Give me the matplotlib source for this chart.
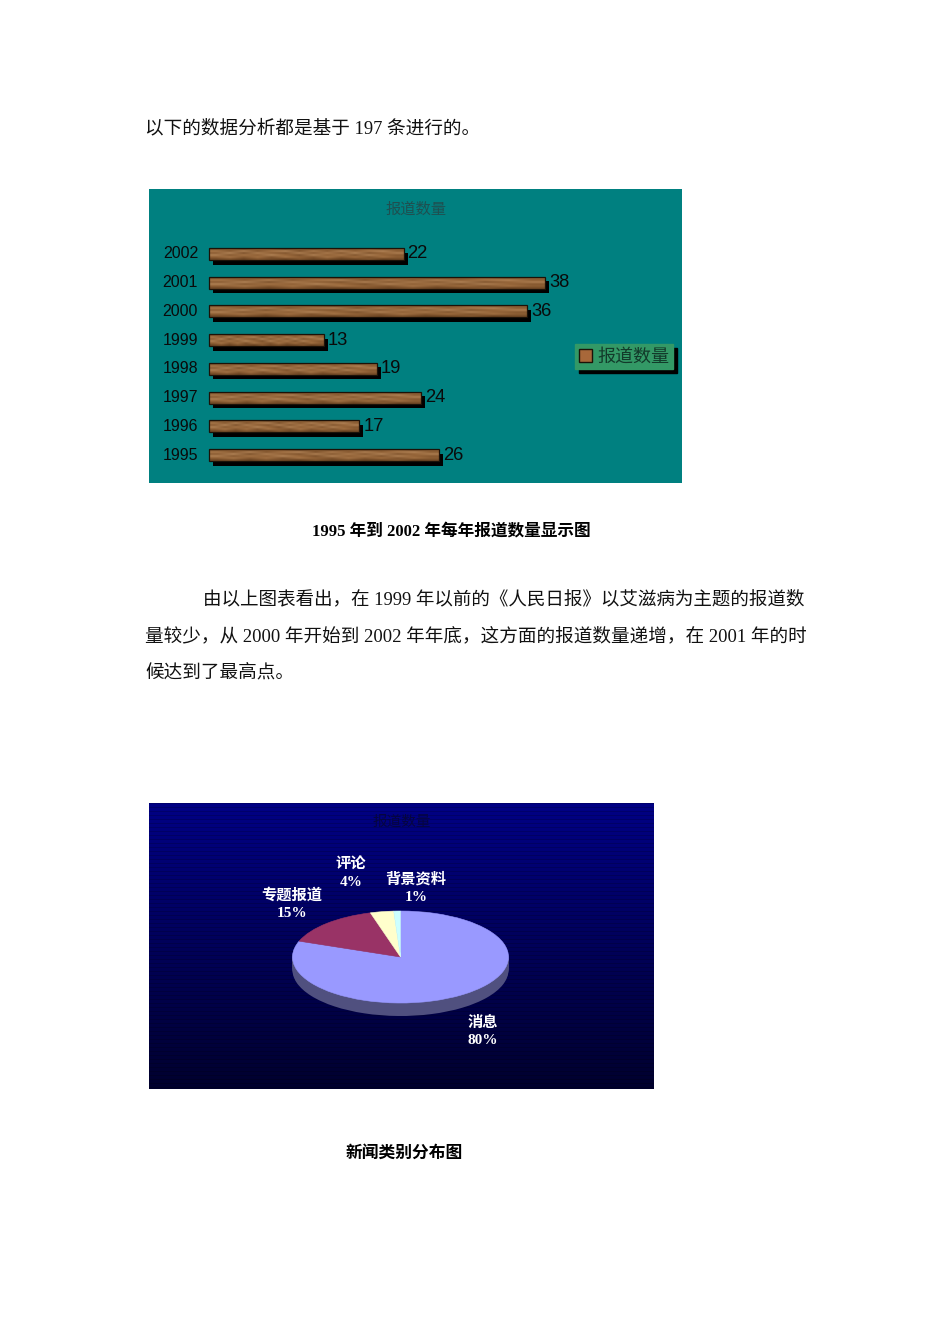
import matplotlib
matplotlib.use("Agg")
import matplotlib.pyplot as plt
import numpy as np
from matplotlib.colors import LinearSegmentedColormap

W, H = 950, 1344

years = ["1995", "1996", "1997", "1998", "1999", "2000", "2001", "2002"]
counts = [26, 17, 24, 19, 13, 36, 38, 22]
series_name = "报道数量"

news_types = ["消息", "专题报道", "评论", "背景资料"]
news_share = [80.6, 14.9, 3.5, 1.0]
news_labels = ["80%", "15%", "4%", "1%"]
news_colors = ["#9999ff", "#993366", "#ffffcc", "#ccffff"]

body_lines = [
    "以下的数据分析都是基于 197 条进行的。",
    "由以上图表看出，在 1999 年以前的《人民日报》以艾滋病为主题的报道数",
    "量较少，从 2000 年开始到 2002 年年底，这方面的报道数量递增，在 2001 年的时",
    "候达到了最高点。",
]
caption_bar = "1995 年到 2002 年每年报道数量显示图"
caption_pie = "新闻类别分布图"

# rough wood grain, brightness by row
wood_grain = [
    [.50, .58, .46, .60, .54, .44, .58, .48, .60, .46, .54, .58, .48, .58],
    [.72, .56, .78, .54, .70, .80, .52, .74, .56, .78, .60, .72, .80, .58],
    [.58, .80, .52, .76, .60, .54, .78, .56, .74, .56, .80, .54, .62, .76],
    [.78, .56, .70, .60, .80, .64, .52, .78, .60, .72, .54, .78, .62, .56],
    [.60, .70, .56, .68, .54, .70, .60, .54, .70, .56, .66, .54, .68, .58],
    [.46, .52, .44, .54, .48, .44, .54, .46, .52, .44, .48, .54, .44, .48],
]
wood_cmap = LinearSegmentedColormap.from_list("wood", ["#4a2a10", "#9c6a3c", "#cda479"])

serif = ["Liberation Serif", "Noto Sans CJK SC"]
cjk = ["Noto Sans CJK SC", "DejaVu Sans"]
sans = ["Liberation Sans", "Noto Sans CJK SC"]


def px_axes(fig, x0, y0, x1, y1):
    return fig.add_axes([x0 / W, 1 - y1 / H, (x1 - x0) / W, (y1 - y0) / H])


def page_text(fig, x, y, s, **kw):
    fig.text(x / W, 1 - y / H, s, va="center", **kw)


fig = plt.figure(figsize=(W / 100, H / 100), dpi=100, facecolor="white")

# ---- text of the page
page_text(fig, 145, 129, body_lines[0], family=serif, fontsize=13.4, color="#111111")
page_text(fig, 203, 599, body_lines[1], family=serif, fontsize=13.35, color="#111111")
page_text(fig, 145, 636, body_lines[2], family=serif, fontsize=13.4, color="#111111")
page_text(fig, 145, 674, body_lines[3], family=serif, fontsize=13.4, color="#111111")
page_text(fig, 451, 531, caption_bar, family=serif, fontsize=12, weight="bold", ha="center")
page_text(fig, 404.5, 1154, caption_pie, family=serif, fontsize=12.1, weight="bold", ha="center")

# ---- bar panel
ax = px_axes(fig, 149, 189, 682, 483)
ax.set_facecolor("#008080")
per_unit = (545 - 209) / 38
per_row = (455 - 254) / 7
xlim = ((149 - 209) / per_unit, (682 - 209) / per_unit)
ylim = (-(483 - 455) / per_row, 7 + (254 - 189) / per_row)
bar_h = 12 / per_row
pos = np.arange(len(years))

ax.barh(pos - 4.5 / per_row, counts, height=bar_h, left=4 / per_unit, color="black", zorder=2)
bars = ax.barh(pos, counts, height=bar_h, color="#a8683a", zorder=3, label=series_name)
for b, c, p, y in zip(bars, counts, pos, years):
    im = ax.imshow(wood_grain, cmap=wood_cmap, vmin=.3, vmax=1, aspect="auto", interpolation="bilinear",
                   extent=(0, c, p - bar_h / 2, p + bar_h / 2), zorder=3.5)
    im.set_clip_path(b)
    ax.text(c + 4 / per_unit, p, str(c), family=sans, fontsize=13.2, va="center", color="#0a0a0a", zorder=4)
    ax.text(-11 / per_unit, p, y, family=sans, fontsize=11.5, ha="right", va="center", color="#0a0a0a", zorder=4)
ax.barh(pos, counts, height=bar_h, fill=False, edgecolor="#1c1208", linewidth=0.9, zorder=3.7)
ax.set_xlim(xlim)
ax.set_ylim(ylim)
ax.set_xticks([])
ax.set_yticks([])
for s in ax.spines.values():
    s.set_visible(False)
ax.text((416 - 149) / 533, 1 - (209 - 189) / 294, series_name, transform=ax.transAxes, family=cjk,
        fontsize=11, color="#1f4f50", ha="center", va="center")
leg = ax.legend(loc="upper left", bbox_to_anchor=((575 - 149) / 533, (483 - 344) / 294), borderaxespad=0,
                prop={"family": cjk, "size": 13}, facecolor="#339966", edgecolor="#339966", framealpha=1,
                fancybox=False, shadow={"color": "black", "alpha": 1, "ox": 3, "oy": -3},
                handlelength=0.75, handleheight=0.75, handletextpad=0.3, borderpad=0.2, labelcolor="#123a2a")
leg.legend_handles[0].set_facecolor("#a8683a")
leg.legend_handles[0].set_edgecolor("#1c1208")

# ---- pie panel
ax2 = px_axes(fig, 149, 803, 654, 1089)
rx, ry = 108, 46
xr = (-(400.5 - 149) / rx, (654 - 400.5) / rx)
yr = (-(1089 - 957) / ry, (957 - 803) / ry)

depth_px = 13
for d in range(depth_px, 0, -1):
    ax2.pie(news_share, colors=["#50507f"] * 4, startangle=90, counterclock=False, center=(0, -d / ry), radius=1)
wedges, _ = ax2.pie(news_share, colors=news_colors, startangle=90, counterclock=False, radius=1)
for w in wedges:
    w.set_edgecolor(w.get_facecolor())
    w.set_linewidth(0.4)
ax2.set_aspect("auto")
ax2.set_axis_on()
ax2.set_xticks([])
ax2.set_yticks([])
for s in ax2.spines.values():
    s.set_visible(False)

# background of the panel, dark downwards, with fine scan lines
rows = np.linspace(0, 1, 286)
grad = np.zeros((286, 1, 3))
grad[:, 0, 2] = (0.52 - 0.34 * rows) * np.where(np.arange(286) % 4 == 0, 0.82, 1.0)
ax2.imshow(grad, extent=(xr[0], xr[1], yr[0], yr[1]), aspect="auto", zorder=-5, interpolation="nearest")
ax2.set_xlim(xr)
ax2.set_ylim(yr)

label_px = {"消息": (483, 1032), "专题报道": (292, 904), "评论": (351, 873), "背景资料": (416, 888)}
for name, share in zip(news_types, news_labels):
    lx, ly = label_px[name]
    fig.text(lx / W, 1 - ly / H, f"{name}\n{share}", family=serif, fontsize=11, weight="bold", color="white",
             ha="center", va="center", linespacing=1.4)
fig.text(402 / W, 1 - 822 / H, series_name, family=cjk, fontsize=10.5, color="#050540", ha="center", va="center")

fig.savefig("out.png", dpi=100)
